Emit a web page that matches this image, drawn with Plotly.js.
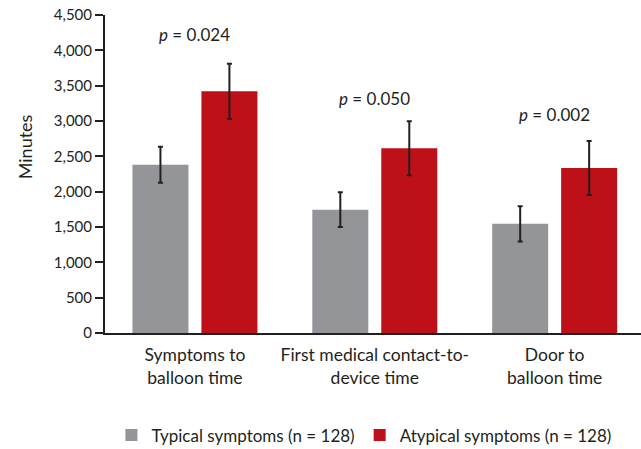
<!DOCTYPE html>
<html>
<head>
<meta charset="utf-8">
<script src="https://cdn.plot.ly/plotly-3.0.1.min.js"></script>
<style>
  html, body { margin: 0; padding: 0; background: #fff; }
  #chart { width: 641px; height: 449px; }
</style>
</head>
<body>
<div id="chart"></div>
<script>
// Time intervals (minutes) by symptom presentation
const categories = ['Symptoms to<br>balloon time', 'First medical contact-to-<br>device time', 'Door to<br>balloon time'];
const typicalName = 'Typical symptoms (n = 128)';
const atypicalName = 'Atypical symptoms (n = 128)';
const typicalMinutes = [2380, 1745, 1545];
const typicalError = [255, 245, 250];
const atypicalMinutes = [3420, 2615, 2335];
const atypicalError = [390, 382, 382];
const pValues = ['0.024', '0.050', '0.002'];
const yTicks = [0, 500, 1000, 1500, 2000, 2500, 3000, 3500, 4000, 4500];

const ink = '#231f20';
const font = 'Lato, sans-serif';

const errStyle = { type: 'data', visible: true, color: ink, thickness: 2, width: 2.5 };

const traces = [
  {
    type: 'bar', name: typicalName, x: categories, y: typicalMinutes,
    marker: { color: '#939598' },
    error_y: Object.assign({ array: typicalError }, errStyle)
  },
  {
    type: 'bar', name: atypicalName, x: categories, y: atypicalMinutes,
    marker: { color: '#be1018' },
    error_y: Object.assign({ array: atypicalError }, errStyle)
  }
];

// heights of the p-value labels above each pair
const pLabelHeights = [4230, 3320, 3090];

const annotations = pValues.map((p, i) => ({
  x: categories[i], y: pLabelHeights[i], xref: 'x', yref: 'y',
  xanchor: 'center', yanchor: 'middle',
  text: '<i>p</i> = ' + p, showarrow: false,
  font: { family: font, size: 17, color: ink }
}));
annotations.push({
  xref: 'paper', yref: 'y', x: -0.149, y: 2630, textangle: -90,
  xanchor: 'center', yanchor: 'middle',
  text: 'Minutes', showarrow: false,
  font: { family: font, size: 18, color: ink }
});

const layout = {
  width: 641, height: 449,
  margin: { l: 105, r: 0, t: 15, b: 115.5, autoexpand: false },
  paper_bgcolor: '#fff', plot_bgcolor: '#fff',
  font: { family: font, size: 17.5, color: ink },
  barmode: 'group', bargap: 0.233, bargroupgap: 0.188,
  showlegend: true,
  legend: {
    orientation: 'h', x: 0.012, xanchor: 'left', y: -0.322, yanchor: 'middle',
    font: { family: font, size: 17, color: ink }, traceorder: 'normal'
  },
  xaxis: {
    type: 'category', range: [-0.5, 2.48],
    showline: true, linecolor: ink, linewidth: 2,
    ticks: '', showgrid: false, zeroline: false, ticklabelstandoff: 5,
    tickfont: { family: font, size: 17.5, color: ink }
  },
  yaxis: {
    range: [0, 4500], tickvals: yTicks, tickformat: ',d',
    showline: true, linecolor: ink, linewidth: 2,
    ticks: 'outside', ticklen: 8, tickwidth: 2, tickcolor: ink,
    showgrid: false, zeroline: false,
    tickfont: { family: font, size: 15, color: ink }
  },
  annotations: annotations
};

Plotly.newPlot('chart', traces, layout, { displayModeBar: false, staticPlot: true });
</script>
</body>
</html>
